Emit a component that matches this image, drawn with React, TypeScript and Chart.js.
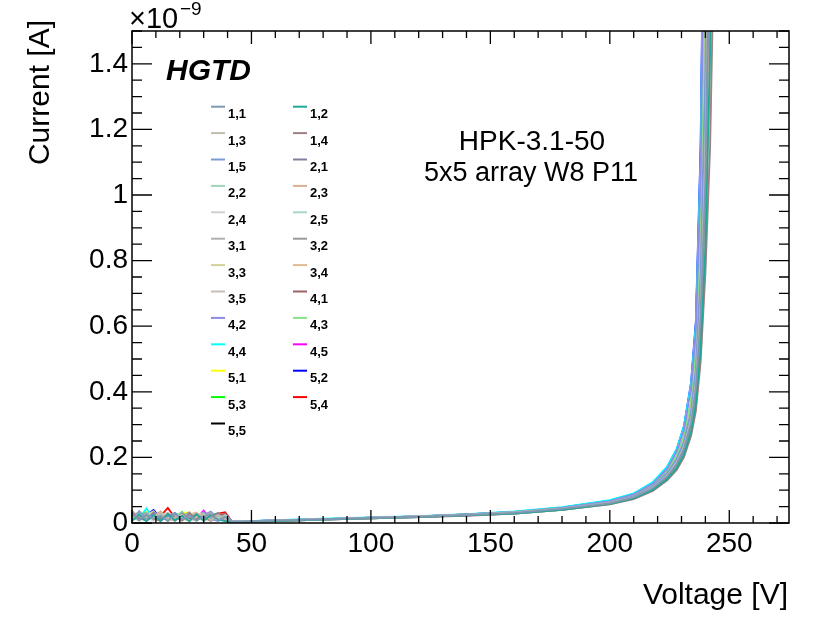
import { useEffect, useRef } from "react";
import { Chart, registerables } from "chart.js";

Chart.register(...registerables);

const FONT = "'Liberation Sans', Arial, Helvetica, sans-serif";

// Voltage grid [V]
const voltages = [0, 3, 6, 9, 12, 15, 18, 21, 24, 27, 30, 33, 36, 39, 42, 46, 60, 80, 100, 120, 140, 160, 180, 200, 210, 218, 224, 228, 231, 234, 236, 238, 240, 242, 244, 246];

const seriesLabels = ["1,1", "1,2", "1,3", "1,4", "1,5", "2,1", "2,2", "2,3", "2,4", "2,5", "3,1", "3,2", "3,3", "3,4", "3,5", "4,1", "4,2", "4,3", "4,4", "4,5", "5,1", "5,2", "5,3", "5,4", "5,5"];

const seriesColors = ["#7f99b3", "#20a898", "#c0bcae", "#a07f80", "#7b9ad6", "#80809e", "#9fd4b8", "#d9ae94", "#d0d0d0", "#a8d8c8", "#b0b0b0", "#9a9a9a", "#d4d09a", "#e0bc94", "#c8bcb8", "#9a6266", "#8c8ce6", "#88e088", "#00ffff", "#ff00ff", "#ffff00", "#0000ff", "#00ff00", "#ff0000", "#000000"];

// Currents in units of 1e-9 A
const current_1_1 = [0.030, 0.008, 0.026, 0.012, 0.022, 0.006, 0.028, 0.010, 0.024, 0.007, 0.020, 0.027, 0.009, 0.018, 0.003, 0.004, 0.007, 0.011, 0.015, 0.019, 0.024, 0.031, 0.043, 0.060, 0.078, 0.106, 0.142, 0.180, 0.226, 0.305, 0.410, 0.630, 1.050, 2.000, 3.800, 6.500];
const current_1_2 = [0.006, 0.026, 0.005, 0.024, 0.006, 0.028, 0.008, 0.022, 0.005, 0.027, 0.007, 0.025, 0.010, 0.006, 0.002, 0.003, 0.006, 0.010, 0.014, 0.018, 0.023, 0.029, 0.040, 0.058, 0.075, 0.101, 0.134, 0.168, 0.208, 0.278, 0.360, 0.530, 0.840, 1.450, 2.700, 5.000];
const current_1_3 = [0.012, 0.028, 0.007, 0.020, 0.030, 0.009, 0.016, 0.026, 0.006, 0.019, 0.029, 0.008, 0.024, 0.012, 0.003, 0.004, 0.007, 0.011, 0.015, 0.020, 0.025, 0.032, 0.044, 0.061, 0.079, 0.108, 0.145, 0.184, 0.232, 0.315, 0.425, 0.660, 1.120, 2.150, 4.000, 6.800];
const current_1_4 = [0.034, 0.008, 0.024, 0.013, 0.006, 0.027, 0.018, 0.007, 0.030, 0.011, 0.021, 0.006, 0.026, 0.010, 0.002, 0.003, 0.006, 0.010, 0.014, 0.018, 0.022, 0.029, 0.040, 0.057, 0.073, 0.098, 0.130, 0.162, 0.200, 0.265, 0.340, 0.490, 0.760, 1.150, 1.900, 3.200];
const current_1_5 = [0.010, 0.036, 0.012, 0.025, 0.007, 0.020, 0.031, 0.010, 0.024, 0.008, 0.033, 0.012, 0.006, 0.019, 0.004, 0.005, 0.008, 0.012, 0.016, 0.020, 0.026, 0.033, 0.045, 0.063, 0.082, 0.112, 0.152, 0.195, 0.248, 0.340, 0.468, 0.755, 1.380, 2.850, 5.000, 8.000];
const current_2_1 = [0.026, 0.014, 0.008, 0.032, 0.011, 0.024, 0.007, 0.029, 0.013, 0.026, 0.009, 0.021, 0.030, 0.008, 0.003, 0.004, 0.007, 0.011, 0.015, 0.019, 0.024, 0.030, 0.042, 0.060, 0.077, 0.105, 0.140, 0.178, 0.222, 0.300, 0.400, 0.610, 1.010, 1.900, 3.600, 6.200];
const current_2_2 = [0.018, 0.007, 0.029, 0.010, 0.026, 0.008, 0.022, 0.032, 0.009, 0.021, 0.007, 0.027, 0.012, 0.024, 0.003, 0.004, 0.007, 0.011, 0.015, 0.019, 0.024, 0.031, 0.043, 0.062, 0.081, 0.111, 0.150, 0.192, 0.245, 0.335, 0.460, 0.740, 1.350, 2.800, 5.000, 8.000];
const current_2_3 = [0.038, 0.016, 0.010, 0.024, 0.033, 0.011, 0.008, 0.026, 0.014, 0.030, 0.012, 0.009, 0.025, 0.012, 0.002, 0.003, 0.006, 0.010, 0.014, 0.018, 0.023, 0.030, 0.041, 0.059, 0.076, 0.102, 0.136, 0.171, 0.212, 0.284, 0.370, 0.550, 0.880, 1.550, 2.900, 5.300];
const current_2_4 = [0.013, 0.026, 0.016, 0.007, 0.023, 0.030, 0.010, 0.019, 0.028, 0.008, 0.025, 0.014, 0.007, 0.022, 0.003, 0.004, 0.007, 0.011, 0.015, 0.019, 0.024, 0.031, 0.043, 0.060, 0.078, 0.106, 0.143, 0.182, 0.228, 0.308, 0.415, 0.640, 1.070, 2.050, 3.900, 6.600];
const current_2_5 = [0.029, 0.010, 0.022, 0.028, 0.008, 0.018, 0.026, 0.008, 0.021, 0.027, 0.010, 0.023, 0.016, 0.008, 0.002, 0.003, 0.006, 0.010, 0.014, 0.018, 0.023, 0.029, 0.040, 0.057, 0.074, 0.099, 0.131, 0.164, 0.203, 0.270, 0.348, 0.505, 0.790, 1.220, 2.050, 3.500];
const current_3_1 = [0.022, 0.031, 0.009, 0.018, 0.027, 0.007, 0.020, 0.030, 0.011, 0.016, 0.026, 0.008, 0.021, 0.012, 0.003, 0.004, 0.007, 0.011, 0.015, 0.019, 0.024, 0.031, 0.042, 0.060, 0.077, 0.104, 0.140, 0.177, 0.220, 0.296, 0.395, 0.600, 0.990, 1.850, 3.500, 6.000];
const current_3_2 = [0.010, 0.020, 0.032, 0.011, 0.016, 0.026, 0.009, 0.022, 0.031, 0.010, 0.018, 0.028, 0.011, 0.025, 0.002, 0.003, 0.006, 0.010, 0.014, 0.018, 0.023, 0.029, 0.040, 0.058, 0.075, 0.101, 0.134, 0.168, 0.208, 0.278, 0.360, 0.530, 0.840, 1.450, 2.700, 5.000];
const current_3_3 = [0.035, 0.012, 0.024, 0.036, 0.010, 0.021, 0.029, 0.012, 0.008, 0.024, 0.032, 0.010, 0.027, 0.014, 0.003, 0.004, 0.007, 0.011, 0.016, 0.020, 0.025, 0.032, 0.044, 0.063, 0.082, 0.112, 0.151, 0.194, 0.248, 0.340, 0.470, 0.760, 1.400, 2.900, 5.200, 8.200];
const current_3_4 = [0.015, 0.029, 0.008, 0.021, 0.035, 0.011, 0.024, 0.008, 0.026, 0.032, 0.009, 0.024, 0.010, 0.022, 0.003, 0.004, 0.007, 0.011, 0.015, 0.019, 0.024, 0.031, 0.043, 0.061, 0.078, 0.107, 0.144, 0.183, 0.230, 0.310, 0.418, 0.645, 1.080, 2.080, 3.950, 6.700];
const current_3_5 = [0.025, 0.011, 0.020, 0.008, 0.024, 0.031, 0.008, 0.020, 0.013, 0.007, 0.022, 0.030, 0.015, 0.008, 0.002, 0.003, 0.006, 0.010, 0.014, 0.018, 0.023, 0.029, 0.040, 0.058, 0.075, 0.100, 0.133, 0.166, 0.206, 0.274, 0.355, 0.520, 0.820, 1.400, 2.600, 4.800];
const current_4_1 = [0.011, 0.024, 0.013, 0.028, 0.010, 0.018, 0.030, 0.014, 0.025, 0.011, 0.028, 0.012, 0.022, 0.029, 0.003, 0.004, 0.007, 0.011, 0.015, 0.019, 0.024, 0.031, 0.043, 0.062, 0.081, 0.110, 0.149, 0.190, 0.242, 0.330, 0.452, 0.725, 1.320, 2.700, 4.900, 7.800];
const current_4_2 = [0.036, 0.015, 0.027, 0.014, 0.034, 0.010, 0.022, 0.015, 0.032, 0.012, 0.024, 0.035, 0.011, 0.020, 0.004, 0.005, 0.008, 0.012, 0.016, 0.020, 0.026, 0.033, 0.046, 0.067, 0.087, 0.120, 0.165, 0.218, 0.284, 0.410, 0.585, 1.060, 2.200, 4.400, 7.000, 9.000];
const current_4_3 = [0.018, 0.032, 0.011, 0.026, 0.014, 0.028, 0.012, 0.030, 0.018, 0.010, 0.029, 0.015, 0.031, 0.011, 0.004, 0.005, 0.008, 0.012, 0.016, 0.020, 0.026, 0.033, 0.045, 0.065, 0.084, 0.116, 0.158, 0.205, 0.265, 0.370, 0.520, 0.900, 1.750, 3.500, 6.000, 9.000];
const current_4_4 = [0.024, 0.014, 0.044, 0.015, 0.024, 0.011, 0.030, 0.017, 0.010, 0.026, 0.015, 0.028, 0.012, 0.024, 0.004, 0.005, 0.009, 0.013, 0.017, 0.021, 0.027, 0.035, 0.048, 0.070, 0.090, 0.125, 0.172, 0.226, 0.295, 0.425, 0.605, 1.120, 2.350, 4.600, 7.000, 9.000];
const current_4_5 = [0.014, 0.026, 0.011, 0.030, 0.018, 0.012, 0.027, 0.011, 0.023, 0.015, 0.038, 0.012, 0.020, 0.027, 0.004, 0.005, 0.008, 0.012, 0.016, 0.020, 0.026, 0.034, 0.047, 0.068, 0.088, 0.122, 0.168, 0.222, 0.290, 0.420, 0.600, 1.100, 2.300, 4.500, 7.000, 9.000];
const current_5_1 = [0.022, 0.030, 0.034, 0.012, 0.027, 0.015, 0.010, 0.029, 0.033, 0.014, 0.010, 0.026, 0.016, 0.011, 0.003, 0.004, 0.007, 0.011, 0.015, 0.019, 0.025, 0.032, 0.044, 0.064, 0.083, 0.114, 0.155, 0.200, 0.258, 0.360, 0.505, 0.860, 1.650, 3.300, 5.800, 9.000];
const current_5_2 = [0.028, 0.012, 0.024, 0.040, 0.015, 0.027, 0.010, 0.024, 0.014, 0.029, 0.017, 0.009, 0.026, 0.014, 0.004, 0.005, 0.008, 0.012, 0.016, 0.020, 0.026, 0.034, 0.047, 0.068, 0.089, 0.123, 0.170, 0.225, 0.294, 0.428, 0.615, 1.150, 2.400, 4.700, 7.200, 9.000];
const current_5_3 = [0.012, 0.022, 0.009, 0.020, 0.028, 0.011, 0.020, 0.034, 0.010, 0.023, 0.008, 0.030, 0.022, 0.009, 0.003, 0.004, 0.007, 0.011, 0.015, 0.019, 0.025, 0.032, 0.044, 0.065, 0.084, 0.116, 0.158, 0.204, 0.263, 0.368, 0.515, 0.890, 1.720, 3.450, 6.000, 9.000];
const current_5_4 = [0.018, 0.011, 0.025, 0.014, 0.022, 0.046, 0.016, 0.012, 0.027, 0.010, 0.024, 0.014, 0.029, 0.033, 0.003, 0.004, 0.007, 0.011, 0.015, 0.019, 0.024, 0.031, 0.043, 0.062, 0.080, 0.110, 0.148, 0.189, 0.240, 0.328, 0.448, 0.715, 1.300, 2.650, 4.800, 7.600];
const current_5_5 = [0.011, 0.021, 0.014, 0.026, 0.009, 0.023, 0.012, 0.025, 0.011, 0.021, 0.014, 0.010, 0.023, 0.013, 0.003, 0.004, 0.007, 0.011, 0.015, 0.019, 0.024, 0.031, 0.043, 0.064, 0.083, 0.115, 0.156, 0.202, 0.260, 0.362, 0.508, 0.870, 1.680, 3.380, 5.900, 9.000];

const currents = [current_1_1, current_1_2, current_1_3, current_1_4, current_1_5, current_2_1, current_2_2, current_2_3, current_2_4, current_2_5, current_3_1, current_3_2, current_3_3, current_3_4, current_3_5, current_4_1, current_4_2, current_4_3, current_4_4, current_4_5, current_5_1, current_5_2, current_5_3, current_5_4, current_5_5];

const xTickValues = [0, 50, 100, 150, 200, 250];
const xTickLabels = ["0", "50", "100", "150", "200", "250"];
const yTickValues = [0, 0.2, 0.4, 0.6, 0.8, 1, 1.2, 1.4];
const yTickLabels = ["0", "0.2", "0.4", "0.6", "0.8", "1", "1.2", "1.4"];

const X_MIN = 0;
const X_MAX = 275;
const Y_MIN = 0;
const Y_MAX = 1.5;

const rootStylePlugin = {
  id: "rootStyle",
  afterDraw(chart: any) {
    const { ctx, chartArea: a } = chart;
    const xs = chart.scales.x;
    const ys = chart.scales.y;
    ctx.save();
    // frame
    ctx.strokeStyle = "#000";
    ctx.lineWidth = 1.5;
    ctx.strokeRect(a.left, a.top, a.right - a.left, a.bottom - a.top);
    // x ticks (inward, bottom and top)
    ctx.lineWidth = 1.3;
    ctx.beginPath();
    for (let k = 0; k * 10 <= X_MAX; k++) {
      const v = k * 10;
      const px = xs.getPixelForValue(v);
      const len = k % 5 === 0 ? 13 : 7;
      ctx.moveTo(px, a.bottom);
      ctx.lineTo(px, a.bottom - len);
      ctx.moveTo(px, a.top);
      ctx.lineTo(px, a.top + len);
    }
    // y ticks (inward, left and right)
    for (let k = 0; k <= 30; k++) {
      const v = k * 0.05;
      const py = ys.getPixelForValue(v);
      const len = k % 4 === 0 ? 20 : 10;
      ctx.moveTo(a.left, py);
      ctx.lineTo(a.left + len, py);
      ctx.moveTo(a.right, py);
      ctx.lineTo(a.right - len, py);
    }
    ctx.stroke();

    ctx.fillStyle = "#000";
    // y title
    ctx.save();
    ctx.font = `30px ${FONT}`;
    ctx.translate(41, 20);
    ctx.rotate(-Math.PI / 2);
    ctx.textAlign = "right";
    ctx.textBaseline = "middle";
    ctx.fillText("Current [A]", 0, 0);
    ctx.restore();
    // x title
    ctx.font = `30px ${FONT}`;
    ctx.textAlign = "right";
    ctx.textBaseline = "alphabetic";
    ctx.fillText("Voltage [V]", 788, 604);
    // exponent
    ctx.textAlign = "left";
    ctx.font = `29px ${FONT}`;
    ctx.fillText("\u00d710", 129, 28);
    ctx.font = `19px ${FONT}`;
    ctx.fillText("\u22129", 180, 15);
    // HGTD
    ctx.font = `italic bold 30px ${FONT}`;
    ctx.fillText("HGTD", 166, 80);
    // annotation
    ctx.textAlign = "center";
    ctx.font = `28px ${FONT}`;
    ctx.fillText("HPK-3.1-50", 532, 150);
    ctx.font = `27px ${FONT}`;
    ctx.fillText("5x5 array W8 P11", 531, 180.5);

    // legend (two columns)
    const datasets = chart.data.datasets;
    ctx.font = `bold 13px ${FONT}`;
    ctx.textAlign = "left";
    for (let i = 0; i < datasets.length; i++) {
      const row = Math.floor(i / 2);
      const col = i % 2;
      const ly = 106.7 + row * 26.4;
      const lx = col === 0 ? 211 : 293;
      ctx.strokeStyle = datasets[i].borderColor;
      ctx.lineWidth = 2;
      ctx.beginPath();
      ctx.moveTo(lx, ly);
      ctx.lineTo(lx + 14, ly);
      ctx.stroke();
      ctx.fillStyle = "#000";
      ctx.fillText(datasets[i].label, lx + 17, ly + 11.5);
    }
    ctx.restore();
  },
};

export default function App() {
  const canvasRef = useRef<HTMLCanvasElement | null>(null);

  useEffect(() => {
    document.body.style.margin = "0";
    const canvas = canvasRef.current;
    if (!canvas) return;
    const datasets = currents.map((arr, i) => ({
      label: seriesLabels[i],
      data: voltages.map((v, j) => ({ x: v, y: arr[j] })),
      borderColor: seriesColors[i],
      backgroundColor: seriesColors[i],
      borderWidth: 1.8,
      pointRadius: 0,
      tension: 0,
      fill: false,
    }));
    const chart = new Chart(canvas, {
      type: "line",
      data: { datasets },
      options: {
        animation: false,
        responsive: false,
        maintainAspectRatio: false,
        layout: { padding: { left: 0, right: 41, top: 31, bottom: 0 } },
        plugins: {
          legend: { display: false },
          tooltip: { enabled: false },
          title: { display: false },
        },
        scales: {
          x: {
            type: "linear",
            min: X_MIN,
            max: X_MAX,
            afterBuildTicks: (axis: any) => {
              axis.ticks = xTickValues.map((v) => ({ value: v }));
            },
            afterFit: (axis: any) => {
              axis.height = 101;
            },
            grid: { display: false, drawTicks: false },
            border: { display: false },
            ticks: {
              autoSkip: false,
              maxRotation: 0,
              padding: 4,
              color: "#000",
              font: { family: FONT, size: 28 },
              callback: (_v: any, i: number) => xTickLabels[i],
            },
          },
          y: {
            type: "linear",
            min: Y_MIN,
            max: Y_MAX,
            afterBuildTicks: (axis: any) => {
              axis.ticks = yTickValues.map((v) => ({ value: v }));
            },
            afterFit: (axis: any) => {
              axis.width = 132;
            },
            grid: { display: false, drawTicks: false },
            border: { display: false },
            ticks: {
              autoSkip: false,
              padding: 4,
              color: "#000",
              font: { family: FONT, size: 28 },
              callback: (_v: any, i: number) => yTickLabels[i],
            },
          },
        },
      },
      plugins: [rootStylePlugin],
    } as any);
    return () => chart.destroy();
  }, []);

  return (
    <div style={{ position: "absolute", left: 0, top: 0, width: 830, height: 624, background: "#fff" }}>
      <canvas ref={canvasRef} width={830} height={624} style={{ width: 830, height: 624, display: "block" }} />
    </div>
  );
}
